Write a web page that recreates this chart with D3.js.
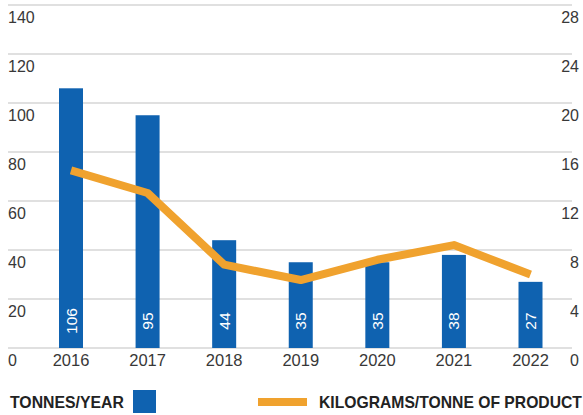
<!DOCTYPE html>
<html>
<head>
<meta charset="utf-8">
<script src="https://cdn.jsdelivr.net/npm/d3@7"></script>
<style>
  html, body { margin: 0; padding: 0; background: #ffffff; }
  svg { display: block; font-family: "Liberation Sans", Arial, Helvetica, sans-serif; }
</style>
</head>
<body>
<svg id="chart" width="583" height="415"></svg>
<script>
// Emissions per year (bars) and intensity per tonne of product (line)
const years = ["2016", "2017", "2018", "2019", "2020", "2021", "2022"];
const tonnesPerYear = [106, 95, 44, 35, 35, 38, 27];
const kgPerTonne = [14.5, 12.65, 6.8, 5.55, 7.2, 8.4, 6.0];
const leftTicks = [0, 20, 40, 60, 80, 100, 120, 140];
const rightTicks = [0, 4, 8, 12, 16, 20, 24, 28];

const blue = "#0f62b0";
const orange = "#f0a22e";
const textColor = "#383838";

const svg = d3.select("#chart");

const x = d3.scalePoint().domain(years).range([71, 530.5]);
const yLeft = d3.scaleLinear().domain([0, 140]).range([348, 5]);
const yRight = d3.scaleLinear().domain([0, 28]).range([348, 5]);
const barWidth = 24;

// Horizontal gridlines
svg.append("g")
  .selectAll("line")
  .data(leftTicks)
  .join("line")
  .attr("x1", 8)
  .attr("x2", 572)
  .attr("y1", d => yLeft(d))
  .attr("y2", d => yLeft(d))
  .attr("stroke", "#d6d6d6")
  .attr("stroke-width", 1.5);

// Left axis labels (tonnes/year)
svg.append("g")
  .selectAll("text")
  .data(leftTicks)
  .join("text")
  .attr("x", 8)
  .attr("y", d => yLeft(d) + 18)
  .attr("font-size", 16)
  .attr("fill", textColor)
  .text(d => d);

// Right axis labels (kg/tonne of product)
svg.append("g")
  .selectAll("text")
  .data(rightTicks)
  .join("text")
  .attr("x", 579)
  .attr("y", d => yRight(d) + 18)
  .attr("text-anchor", "end")
  .attr("font-size", 16)
  .attr("fill", textColor)
  .text(d => d);

// Year labels
svg.append("g")
  .selectAll("text")
  .data(years)
  .join("text")
  .attr("x", d => x(d))
  .attr("y", 366)
  .attr("text-anchor", "middle")
  .attr("font-size", 16.5)
  .attr("fill", textColor)
  .text(d => d);

// Bars
const bars = years.map((yr, i) => ({ year: yr, value: tonnesPerYear[i] }));
svg.append("g")
  .selectAll("rect")
  .data(bars)
  .join("rect")
  .attr("x", d => x(d.year) - barWidth / 2)
  .attr("y", d => yLeft(d.value))
  .attr("width", barWidth)
  .attr("height", d => yLeft(0) - yLeft(d.value))
  .attr("fill", blue);

// Value labels inside bars, rotated
svg.append("g")
  .selectAll("text")
  .data(bars)
  .join("text")
  .attr("transform", d => `translate(${x(d.year) + 5.5},321) rotate(-90)`)
  .attr("text-anchor", "middle")
  .attr("font-size", 15.5)
  .attr("fill", "#ffffff")
  .text(d => d.value);

// Intensity line
const linePts = years.map((yr, i) => [x(yr), yRight(kgPerTonne[i])]);
svg.append("path")
  .attr("d", d3.line()(linePts))
  .attr("fill", "none")
  .attr("stroke", orange)
  .attr("stroke-width", 8)
  .attr("stroke-linejoin", "round");

// Legend
const legend = svg.append("g");
legend.append("text")
  .attr("x", 10)
  .attr("y", 408)
  .attr("font-size", 15.8)
  .attr("font-weight", "bold")
  .attr("fill", "#222222")
  .text("TONNES/YEAR");
legend.append("rect")
  .attr("x", 133)
  .attr("y", 390)
  .attr("width", 23)
  .attr("height", 23)
  .attr("fill", blue);
legend.append("line")
  .attr("x1", 258)
  .attr("x2", 307)
  .attr("y1", 402)
  .attr("y2", 402)
  .attr("stroke", orange)
  .attr("stroke-width", 8);
legend.append("text")
  .attr("x", 319)
  .attr("y", 408)
  .attr("font-size", 15.7)
  .attr("font-weight", "bold")
  .attr("fill", "#222222")
  .text("KILOGRAMS/TONNE OF PRODUCT");
</script>
</body>
</html>
